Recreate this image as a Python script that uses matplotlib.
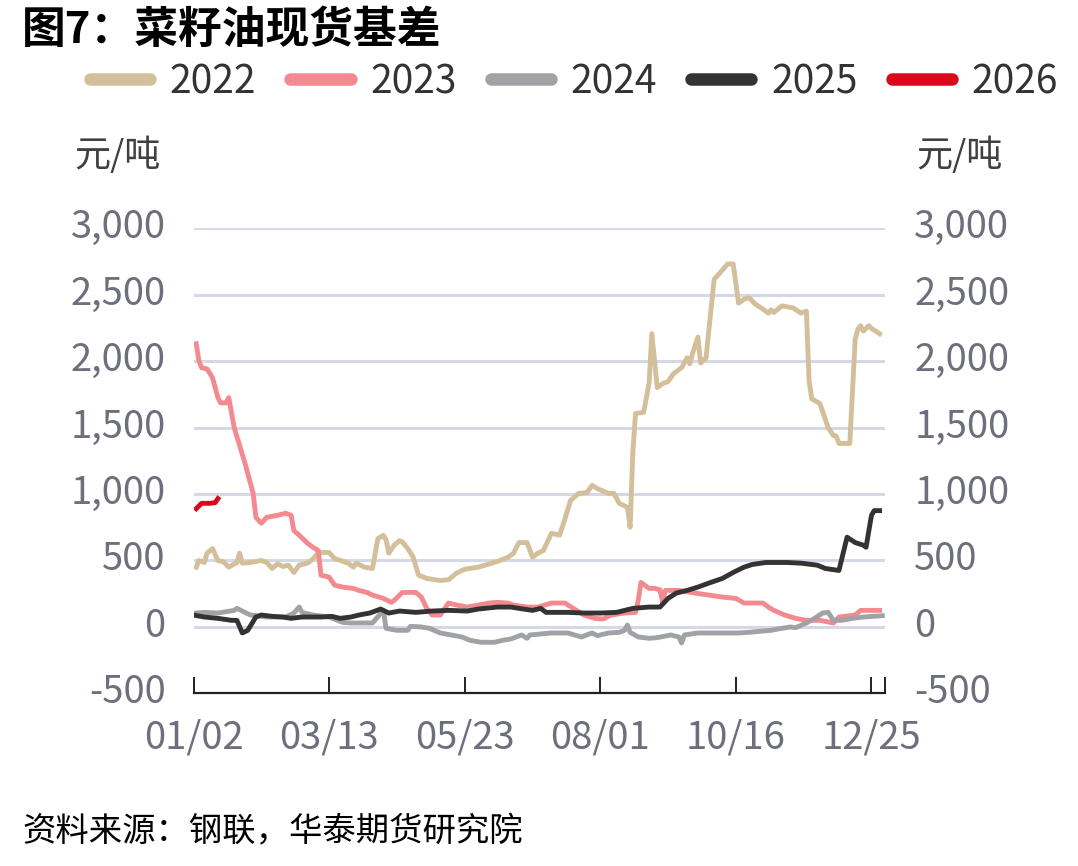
import matplotlib
matplotlib.use("Agg")
import matplotlib.pyplot as plt
from matplotlib.lines import Line2D
from matplotlib.transforms import ScaledTranslation

plt.rcParams['font.family'] = ['Noto Sans CJK SC', 'DejaVu Sans']

# ---- data: (trading-day index, basis 元/吨) ----
years = ["2022", "2023", "2024", "2025", "2026"]
colors = ["#D3BF99", "#F28A90", "#A0A2A5", "#333333", "#D9091A"]

tick_pos = [0, 50, 100, 150, 200, 250, 255]
tick_labels = ["01/02", "03/13", "05/23", "08/01", "10/16", "12/25", ""]
y_ticks = [-500, 0, 500, 1000, 1500, 2000, 2500, 3000]

s2022 = [(1,450),(2,500),(4,485),(5,555),(7,590),(9,500),(11,490),(13,450),(16,485),(17,555),
         (18,480),(21,485),(25,500),(27,485),(29,440),(31,475),(33,455),(35,465),(37,410),(39,465),
         (42,480),(44,510),(46,560),(50,560),(52,515),(55,495),(57,480),(59,450),(60,480),(63,450),
         (66,440),(68,665),(70,690),(71,655),(72,555),(74,615),(76,650),(77,640),(79,590),(81,525),
         (83,390),(86,365),(91,350),(94,355),(97,405),(100,435),(105,450),(110,480),(113,500),(116,525),
         (118,555),(120,635),(123,635),(125,525),(127,555),(129,575),(132,705),(135,690),(137,815),(139,950),
         (142,1005),(145,1010),(147,1065),(149,1040),(153,1005),(155,1005),(157,930),(160,900),(161,750),(162,1315),
         (163,1605),(166,1615),(167,1725),(168,1835),(169,2205),(171,1800),(173,1830),(175,1845),(177,1905),(180,1950),
         (182,2025),(183,1980),(184,2055),(186,2180),(187,1985),(189,2025),(190,2225),(192,2615),(194,2660),(197,2730),
         (199,2730),(201,2435),(203,2465),(205,2475),(207,2430),(210,2390),(212,2360),(213,2385),(214,2365),(217,2415),
         (221,2400),(224,2360),(226,2375),(227,1850),(228,1715),(231,1680),(234,1500),(236,1440),(237,1435),(238,1380),
         (242,1380),(244,2165),(245,2240),(246,2265),(247,2225),(249,2265),(250,2245),(253,2205)]

s2023 = [(1,2130),(2,2000),(3,1950),(5,1940),(7,1875),(9,1725),(10,1685),(12,1685),(13,1725),(15,1500),
         (19,1230),(22,1005),(23,825),(25,780),(27,825),(31,840),(34,855),(36,840),(37,725),(39,690),
         (42,630),(44,600),(46,575),(47,390),(50,375),(52,315),(55,300),(59,290),(61,275),(64,260),
         (66,240),(70,215),(73,185),(74,200),(77,260),(82,260),(84,225),(86,140),(88,90),(91,90),
         (94,180),(97,165),(101,150),(105,165),(109,180),(112,185),(116,180),(118,165),(123,150),(127,150),
         (132,180),(137,180),(140,140),(144,90),(148,65),(151,60),(154,90),(159,105),(163,110),(164,200),
         (165,335),(168,290),(170,290),(172,280),(173,185),(174,275),(179,275),(185,255),(190,240),(195,225),
         (200,215),(203,180),(210,180),(212,150),(214,125),(218,90),(222,65),(226,50),(231,50),(236,30),
         (238,75),(244,90),(246,125),(253,125)]

s2024 = [(1,105),(4,110),(9,105),(15,125),(16,140),(21,90),(27,75),(34,75),(37,105),(39,150),
         (40,110),(44,90),(50,75),(55,35),(58,30),(66,30),(70,125),(71,-10),(75,-25),(79,-25),
         (80,5),(84,0),(87,-10),(91,-45),(95,-60),(99,-75),(102,-100),(106,-115),(111,-115),(114,-100),
         (117,-90),(121,-60),(123,-85),(124,-60),(132,-45),(138,-45),(143,-75),(147,-45),(149,-65),(153,-45),
         (157,-40),(159,-25),(160,15),(161,-40),(164,-75),(168,-85),(171,-80),(176,-60),(179,-75),(180,-120),
         (181,-60),(186,-45),(195,-45),(201,-45),(205,-40),(210,-30),(213,-25),(217,-10),(220,0),(222,-5),
         (226,30),(229,65),(232,105),(234,110),(236,50),(239,50),(243,65),(247,75),(254,85)]

s2025 = [(0,90),(4,75),(9,65),(14,50),(16,50),(18,-45),(20,-25),(23,75),(25,90),(29,80),
         (33,75),(36,65),(40,75),(44,75),(47,75),(51,80),(54,65),(58,75),(61,90),(65,105),
         (69,135),(72,105),(76,120),(82,110),(88,120),(94,125),(101,120),(105,135),(112,150),(117,150),
         (120,140),(125,125),(128,140),(130,110),(138,110),(144,105),(150,105),(156,110),(162,140),(168,150),
         (172,150),(175,215),(178,255),(182,275),(186,300),(190,330),(195,365),(199,410),(203,450),(206,470),
         (211,485),(214,485),(219,485),(224,480),(230,465),(233,440),(238,425),(241,675),(244,635),(247,615),
         (248,600),(250,840),(251,875),(253,875)]

s2026 = [(1,890),(3,930),(6,930),(8,935),(9,965)]

series = [s2022, s2023, s2024, s2025, s2026]

# ---- figure ----
fig = plt.figure(figsize=(10.78, 8.66), dpi=100)
ax = fig.add_axes([0.1795, 0.1992, 0.6415, 0.5375])

for yv in y_ticks[1:]:
    ax.axhline(yv, color="#D5D9E6", lw=2.2, zorder=1)

for s, c, lab in zip(series, colors, years):
    xs = [p[0] for p in s]
    ys = [p[1] for p in s]
    ax.plot(xs, ys, color=c, lw=3.5, solid_joinstyle="round", zorder=3, label=lab)

ax.set_xlim(0, 255)
ax.set_ylim(-500, 3000)
for sp in ["top", "left", "right"]:
    ax.spines[sp].set_visible(False)
ax.spines["bottom"].set_color("#222222")
ax.spines["bottom"].set_linewidth(1.6)
ax.spines["bottom"].set_zorder(4)

tick_color = "#6E6F7C"
fs_tick = 27.5
ax.set_xticks(tick_pos)
ax.set_xticklabels(tick_labels)
ax.tick_params(axis="x", direction="in", length=11.5, width=1.4, color="#222222",
               labelsize=fs_tick, labelcolor=tick_color, pad=18)
ax.set_yticks(y_ticks)
ax.set_yticklabels([f"{v:,}" for v in y_ticks])
ax.tick_params(axis="y", length=0, labelsize=fs_tick, labelcolor=tick_color, pad=20)

ax2 = ax.twinx()
ax2.set_ylim(-500, 3000)
ax2.set_yticks(y_ticks)
ax2.set_yticklabels([f"{v:,}" for v in y_ticks])
ax2.tick_params(axis="y", length=0, labelsize=fs_tick, labelcolor=tick_color, pad=21)
for sp in ["top", "left", "right", "bottom"]:
    ax2.spines[sp].set_visible(False)

lift = ScaledTranslation(0, 5/100, fig.dpi_scale_trans)
for t in list(ax.get_yticklabels()) + list(ax2.get_yticklabels()):
    t.set_transform(t.get_transform() + lift)

# unit labels
fig.text(117/1078, 1-155/866, "元/吨", ha="center", va="center", fontsize=26, color="#404040")
fig.text(959/1078, 1-155/866, "元/吨", ha="center", va="center", fontsize=26, color="#404040")

# title
fig.text(22/1078, 1-30/866, "图7：菜籽油现货基差", ha="left", va="center",
         fontsize=31.5, fontweight="heavy", color="#000000")

# legend
handles = [Line2D([0], [0], color=c, lw=9, solid_capstyle="round") for c in colors]
fig.legend(handles, years, loc="center left", bbox_to_anchor=(90/1078, 1-82/866),
           ncol=5, frameon=False, fontsize=28, handlelength=1.55, handletextpad=0.5,
           columnspacing=0.88, borderpad=0, borderaxespad=0, labelcolor="#333333")

# source
fig.text(22/1078, 1-832/866, "资料来源：钢联，华泰期货研究院", ha="left", va="center",
         fontsize=24, style="italic", color="#000000")

fig.savefig("out.png", dpi=100)
